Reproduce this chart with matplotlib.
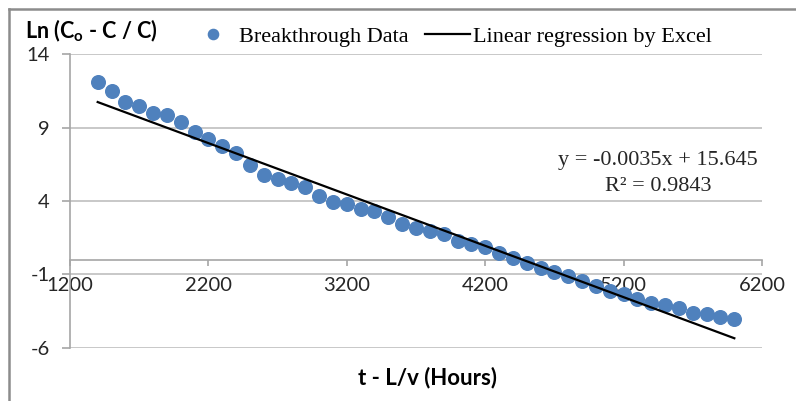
import matplotlib
matplotlib.use("Agg")
import matplotlib.pyplot as plt
from matplotlib.lines import Line2D
import numpy as np

# Breakthrough data: elapsed time t - L/v (hours) and Ln((Co - C)/C)
hours = [1400, 1500, 1600, 1700, 1800, 1900, 2000, 2100, 2200, 2300,
         2400, 2500, 2600, 2700, 2800, 2900, 3000, 3100, 3200, 3300,
         3400, 3500, 3600, 3700, 3800, 3900, 4000, 4100, 4200, 4300,
         4400, 4500, 4600, 4700, 4800, 4900, 5000, 5100, 5200, 5300,
         5400, 5500, 5600, 5700, 5800, 5900, 6000]
ln_ratio = [12.13, 11.50, 10.75, 10.46, 10.02, 9.86, 9.37, 8.73, 8.25, 7.77,
            7.29, 6.46, 5.79, 5.48, 5.25, 4.96, 4.36, 3.93, 3.78, 3.44,
            3.32, 2.93, 2.41, 2.18, 1.96, 1.72, 1.30, 1.07, 0.85, 0.44,
            0.10, -0.25, -0.59, -0.86, -1.09, -1.45, -1.77, -2.12, -2.35, -2.70,
            -2.93, -3.09, -3.31, -3.61, -3.70, -3.89, -4.02]

# Linear trendline reported by Excel
slope = -0.0035
intercept = 15.645
r_squared = 0.9843

x_ticks = [1200, 2200, 3200, 4200, 5200, 6200]
y_ticks = [-6, -1, 4, 9, 14]

plt.rcParams["axes.unicode_minus"] = False
plt.rcParams["mathtext.fontset"] = "custom"
plt.rcParams["mathtext.rm"] = "Lato:bold"
plt.rcParams["mathtext.bf"] = "Lato:bold"

W, H = 796, 401
fig = plt.figure(figsize=(W / 100, H / 100), dpi=100)
fig.patch.set_facecolor("white")

ax = fig.add_axes([70 / W, 1 - 347.7 / H, 692 / W, 293.4 / H])
ax.set_xlim(x_ticks[0], x_ticks[-1])
ax.set_ylim(y_ticks[0], y_ticks[-1])

grid_c = "#bfbfbf"
axis_c = "#a6a6a6"

ax.set_yticks(y_ticks)
ax.set_xticks(x_ticks)
ax.yaxis.grid(True, color=grid_c, linewidth=1.2)
ax.set_axisbelow(True)

for side in ("top", "right"):
    ax.spines[side].set_visible(False)
ax.spines["left"].set_color(axis_c)
ax.spines["left"].set_linewidth(1.2)
ax.spines["bottom"].set_position(("data", 0))
ax.spines["bottom"].set_color(axis_c)
ax.spines["bottom"].set_linewidth(1.2)

ax.tick_params(axis="y", direction="out", length=5.5, width=1.2,
               color=axis_c, pad=9, labelsize=14.5, labelcolor="#262626")
ax.tick_params(axis="x", direction="out", length=4.5, width=1.2,
               color=axis_c, pad=8, labelsize=14.5, labelcolor="#262626")
for lab in ax.get_xticklabels() + ax.get_yticklabels():
    lab.set_family("Lato")

# data points
ax.plot(hours, ln_ratio, linestyle="none", marker="o", markersize=9.8,
        markerfacecolor="#4f81bd", markeredgecolor="#4f81bd",
        label="Breakthrough Data", zorder=3, clip_on=False)

# regression line
fit_x = np.array([hours[0], hours[-1]])
fit_y = slope * fit_x + intercept
ax.plot(fit_x, fit_y, color="black", linewidth=1.6,
        label="Linear regression by Excel", zorder=4)

fig.legend(loc="center left", bbox_to_anchor=(191 / W, 1 - 36.7 / H),
           bbox_transform=fig.transFigure, ncol=2, frameon=False,
           prop=dict(family="Liberation Serif", size=16),
           handlelength=2.0, handletextpad=0.15, columnspacing=0.75,
           borderpad=0, borderaxespad=0, markerscale=0.75)

# trendline equation
eq_font = dict(family="Liberation Serif", size=16, color="#262626")
fig.text(658 / W, 1 - 161 / H, f"y = {slope:.4f}x + {intercept:.3f}",
         ha="center", va="center", **eq_font)
fig.text(658 / W, 1 - 187 / H, f"R² = {r_squared:.4f}",
         ha="center", va="center", **eq_font)

# axis titles
fig.text(25 / W, 1 - 38.3 / H, r"Ln (C$_\mathregular{o}$ - C / C)",
         ha="left", va="baseline", family="Lato", weight="bold",
         size=15.5, color="black")
fig.text(427 / W, 1 - 378 / H, "t - L/v (Hours)", ha="center", va="center",
         family="Lato", weight="bold", size=16, color="black")

# outer chart frame (continues past the right and bottom edges)
frame_c = "#8c8c8c"
fig.add_artist(Line2D([9 / W, 1.0], [1 - 9 / H, 1 - 9 / H],
                      transform=fig.transFigure, color=frame_c, linewidth=1.8))
fig.add_artist(Line2D([9 / W, 9 / W], [0.0, 1 - 9 / H],
                      transform=fig.transFigure, color=frame_c, linewidth=1.8))

fig.savefig("out.png", dpi=100)
